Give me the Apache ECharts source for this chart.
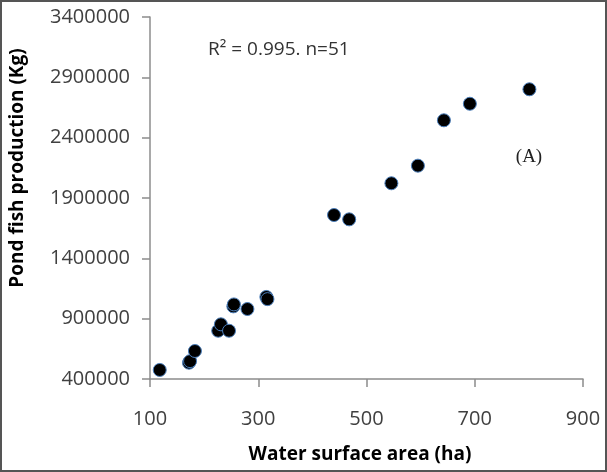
<!DOCTYPE html>
<html>
<head>
<meta charset="utf-8">
<script src="https://cdn.jsdelivr.net/npm/echarts@6/dist/echarts.min.js"></script>
<style>
  html, body { margin: 0; padding: 0; background: #fff; }
  #chart { width: 607px; height: 472px; }
</style>
</head>
<body>
<div id="chart"></div>
<script>
// water surface area (ha) vs pond fish production (kg)
const areaHa = [118, 172, 174, 183, 226, 231, 246, 254, 255, 280, 315, 317, 440, 468, 546, 595, 643, 691, 801];
const productionKg = [475000, 535000, 548000, 632000, 800000, 853000, 800000, 1002000, 1018000, 980000, 1080000, 1062000, 1759000, 1723000, 2022000, 2168000, 2544000, 2681000, 2801000];
const xTicks = [100, 300, 500, 700, 900];
const yTicks = [400000, 900000, 1400000, 1900000, 2400000, 2900000, 3400000];

const points = areaHa.map((x, i) => [x, productionKg[i]]);

const chart = echarts.init(document.getElementById("chart"));

const axisCommon = {
  axisLine: { show: true, lineStyle: { color: "#8c8c8c", width: 1.5 } },
  axisTick: { show: true, inside: false, length: 8, lineStyle: { color: "#8c8c8c", width: 1.5 } },
  splitLine: { show: false },
};

const option = {
  animation: false,
  backgroundColor: "#fff",
  grid: { left: 150, right: 24, top: 17, bottom: 93 },
  xAxis: {
    type: "value",
    min: xTicks[0],
    max: xTicks[xTicks.length - 1],
    interval: xTicks[1] - xTicks[0],
    ...axisCommon,
    axisLabel: { margin: 30, color: "#404040", fontFamily: "Open Sans", fontSize: 20 },
  },
  yAxis: {
    type: "value",
    min: yTicks[0],
    max: yTicks[yTicks.length - 1],
    interval: yTicks[1] - yTicks[0],
    ...axisCommon,
    axisLabel: {
      margin: 20,
      color: "#404040",
      fontFamily: "Open Sans",
      fontSize: 20,
      formatter: (v) => String(v),
    },
  },
  series: [
    {
      type: "scatter",
      data: points,
      symbol: "circle",
      symbolSize: 13,
      itemStyle: { color: "#000", opacity: 1, borderColor: "#4a7ebb", borderWidth: 1 },
    },
  ],
  graphic: [
    {
      type: "rect",
      shape: { x: 1, y: 1, width: 605, height: 470 },
      style: { fill: "none", stroke: "#555", lineWidth: 2 },
      silent: true,
    },
    {
      type: "text",
      x: 360,
      y: 455,
      style: {
        text: "Water surface area (ha)",
        fontFamily: "Open Sans",
        fontWeight: "bold",
        fontSize: 19,
        fill: "#000",
        align: "center",
        verticalAlign: "middle",
      },
    },
    {
      type: "text",
      x: 18,
      y: 168,
      rotation: Math.PI / 2,
      style: {
        text: "Pond fish production (Kg)",
        fontFamily: "Open Sans",
        fontWeight: "bold",
        fontSize: 19,
        fill: "#000",
        align: "center",
        verticalAlign: "middle",
      },
    },
    {
      type: "text",
      x: 208,
      y: 50,
      style: {
        text: "R² = 0.995. n=51",
        fontFamily: "Open Sans",
        fontSize: 19,
        fill: "#333",
        align: "left",
        verticalAlign: "middle",
      },
    },
    {
      type: "text",
      x: 529,
      y: 157,
      style: {
        text: "(A)",
        fontFamily: "Liberation Serif",
        fontSize: 19,
        fill: "#222",
        align: "center",
        verticalAlign: "middle",
      },
    },
  ],
};

chart.setOption(option);
</script>
</body>
</html>
